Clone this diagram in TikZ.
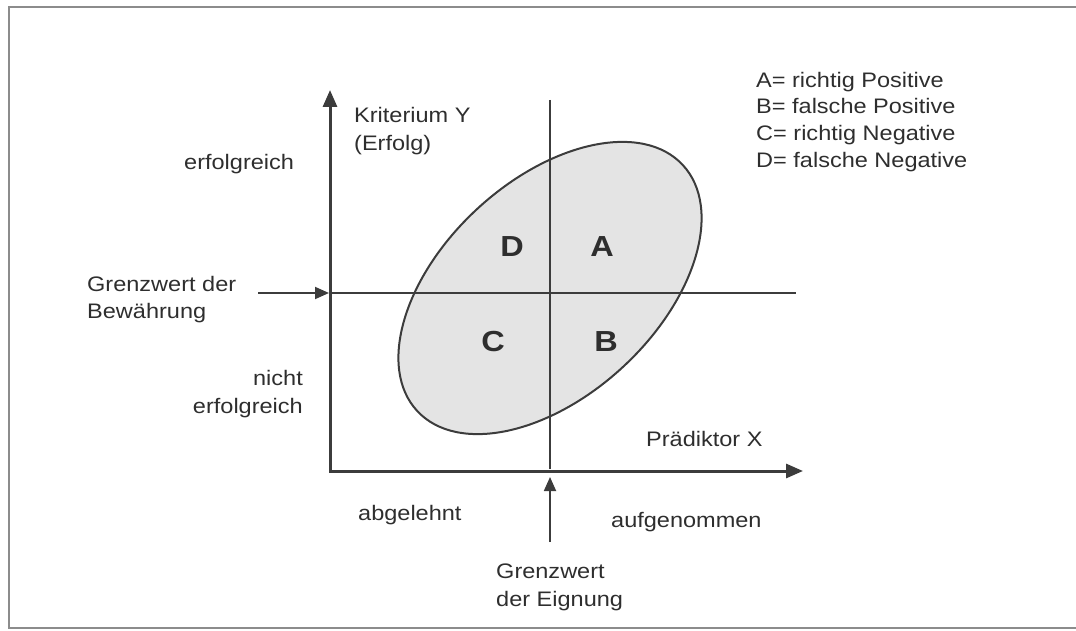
\documentclass[tikz,border=0pt]{standalone}
\usepackage{fontspec}
\setmainfont[FakeStretch=1.12]{Liberation Sans}
\usepackage{tikz}
\usetikzlibrary{arrows.meta,positioning}
\definecolor{ink}{HTML}{2E2E2E}
\definecolor{rule}{HTML}{3C3C3C}
\definecolor{frame}{HTML}{8C8C8C}
\definecolor{cloud}{HTML}{E4E4E4}

\begin{document}
\begin{tikzpicture}[x=1pt,y=-1pt,font=\fontsize{21}{27.5}\selectfont,text=ink,>={Triangle[length=14pt,width=12pt]},
  lbl/.style={inner sep=0pt,anchor=base west,align=left},
  quad/.style={inner sep=0pt,font=\fontsize{29}{30}\selectfont\bfseries}]
\useasboundingbox (0,0) rectangle (1076,631);
\draw[frame,line width=1.2pt] (1076,7) -- (9,7) -- (9,628) -- (1076,628);
\coordinate (O) at (330,471); \coordinate (ytop) at (330,90); \coordinate (xend) at (803,471);
\coordinate (hL) at (332,293); \coordinate (hR) at (796,293); \coordinate (vT) at (550,100); \coordinate (vB) at (550,469);
\coordinate (bwStart) at (258,293); \coordinate (bwTip) at (329,293); \coordinate (egStart) at (550,542); \coordinate (egTip) at (550,477);
\draw[rule,line width=2pt,fill=cloud,rotate around={42.8:(550,288)}] (550,288) ellipse [x radius=181,y radius=107.5];
\draw[rule,line width=1.8pt] (hL) -- (hR);
\draw[rule,line width=1.8pt] (vT) -- (vB);
\draw[<->,rule,line width=3pt,>={Triangle[length=17pt,width=14pt]}] (ytop) -- (O) -- (xend);
\draw[->,rule,line width=1.8pt] (bwStart) -- (bwTip);
\draw[->,rule,line width=1.8pt] (egStart) -- (egTip);
\node[quad] (qD) at (512,247) {D}; \node[quad] (qA) at (602,247) {A};
\node[quad] (qC) at (493,342) {C}; \node[quad] (qB) at (606,342) {B};
\node[lbl] (kritY) at (354,150.5) {Kriterium Y\\(Erfolg)};
\node[lbl] (erfolgTxt) at (184,170) {erfolgreich};
\node[lbl] (bewTxt) at (87,318.5) {Grenzwert der\\Bewährung};
\node[lbl,anchor=base east,align=right] (nichtTxt) at (303,413) {nicht\\erfolgreich};
\node[lbl] (praedTxt) at (646,446) {Prädiktor X};
\node[lbl] (ablTxt) at (358,520) {abgelehnt};
\node[lbl] (aufTxt) at (611,527) {aufgenommen};
\node[lbl] (eignTxt) at (496,606) {Grenzwert\\der Eignung};
\node[lbl,font=\fontsize{21}{27}\selectfont] (legend) at (756,168) {A= richtig Positive\\B= falsche Positive\\C= richtig Negative\\D= falsche Negative};
\end{tikzpicture}
\end{document}
